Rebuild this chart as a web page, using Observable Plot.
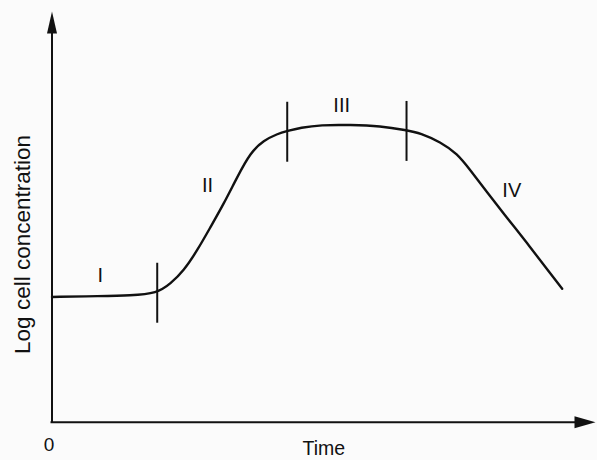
<!DOCTYPE html>
<html>
<head>
<meta charset="utf-8">
<script src="https://cdn.jsdelivr.net/npm/d3@7"></script>
<script src="https://cdn.jsdelivr.net/npm/@observablehq/plot@0.6"></script>
<style>
  html, body { margin: 0; padding: 0; background: #fbfbfb; }
</style>
</head>
<body>
<div id="chart"></div>
<script>
// Growth curve (schematic): time vs log cell concentration
const time    = [0, 8.9, 14.4, 19.36, 21.8, 24.25, 26.72, 29.16, 31.61, 34.08, 36.52, 38.97, 41.44, 43.28, 45.73, 49.4, 54.92, 60.44, 65.23, 67.8, 71.48, 74.55, 77.0, 80.07, 83.75, 87.43, 91.11, 93.87];
const logConc = [3.05, 3.07, 3.085, 3.14, 3.37, 3.69, 4.18, 4.75, 5.32, 5.97, 6.57, 6.86, 7.02, 7.09, 7.17, 7.24, 7.24, 7.21, 7.11, 7.04, 6.82, 6.54, 6.13, 5.60, 4.97, 4.36, 3.72, 3.25];

// Phase boundaries (time) and curve level at each boundary
const boundaryTime  = [19.36, 43.28, 65.23];
const boundaryLevel = [3.14, 7.06, 7.08];

// Phase labels
const phaseNames = ["I", "II", "III", "IV"];
const phaseTime  = [8.9, 28.6, 53.3, 84.6];
const phaseLevel = [3.58, 5.75, 7.72, 5.65];

const xDomain = [0, 100];
const yDomain = [0, 10];

const curve = time.map((t, i) => ({t, v: logConc[i]}));
const bounds = boundaryTime.map((t, i) => ({t, v: boundaryLevel[i]}));
const phases = phaseNames.map((n, i) => ({n, t: phaseTime[i], v: phaseLevel[i]}));

const ink = "#111";
const half = 0.73;

// filled arrowheads for the axes
const arrowUp = { draw(ctx) { ctx.moveTo(0, 0); ctx.lineTo(-5, 22); ctx.lineTo(5, 22); ctx.closePath(); } };
const arrowRight = { draw(ctx) { ctx.moveTo(0, 0); ctx.lineTo(-21, -6); ctx.lineTo(-21, 6); ctx.closePath(); } };

const chart = Plot.plot({
  width: 597,
  height: 460,
  marginLeft: 51.5,
  marginRight: 2,
  marginTop: 11,
  marginBottom: 38.3,
  style: { background: "#fbfbfb", fontFamily: "'Liberation Sans', Arial, Helvetica, sans-serif", color: ink },
  x: { domain: xDomain, axis: null },
  y: { domain: yDomain, axis: null },
  marks: [
    // axes
    Plot.ruleX([xDomain[0]], { y1: yDomain[0], y2: yDomain[1] - 0.5, stroke: ink, strokeWidth: 2, strokeLinecap: "square" }),
    Plot.ruleY([yDomain[0]], { x1: xDomain[0], x2: xDomain[1] - 2, stroke: ink, strokeWidth: 2, strokeLinecap: "square" }),
    Plot.dot([{x: xDomain[0], y: yDomain[1]}], { x: "x", y: "y", symbol: arrowUp, fill: ink, stroke: "none" }),
    Plot.dot([{x: xDomain[1], y: yDomain[0]}], { x: "x", y: "y", symbol: arrowRight, fill: ink, stroke: "none" }),
    // growth curve
    Plot.line(curve, { x: "t", y: "v", curve: "basis", stroke: ink, strokeWidth: 2.4 }),
    // phase boundary ticks
    Plot.ruleX(bounds, { x: "t", y1: d => d.v - half, y2: d => d.v + half, stroke: ink, strokeWidth: 2 }),
    // phase labels
    Plot.text(phases, { x: "t", y: "v", text: "n", fontSize: 20, fill: ink }),
    // axis texts
    Plot.text([xDomain[0]], { x: d => d, text: d => String(d), frameAnchor: "bottom", lineAnchor: "top", dy: 15, dx: -3, fontSize: 19, fill: ink }),
    Plot.text(["Time"], { text: d => d, frameAnchor: "bottom", lineAnchor: "top", dy: 18.5, fontSize: 19.5, fill: ink }),
    Plot.text(["Log cell concentration"], { text: d => d, frameAnchor: "left", textAnchor: "middle", rotate: -90, dx: -29.5, dy: 27.6, fontSize: 22.5, fill: ink })
  ]
});
document.getElementById("chart").appendChild(chart);
</script>
</body>
</html>
